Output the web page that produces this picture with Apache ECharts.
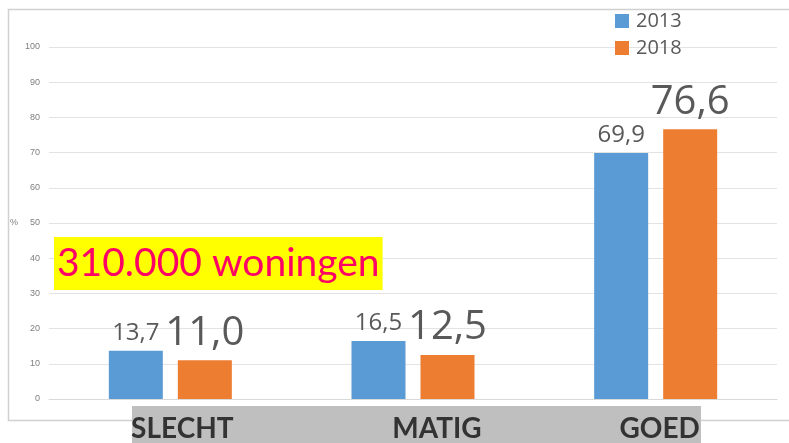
<!DOCTYPE html>
<html>
<head>
<meta charset="utf-8">
<script src="https://cdn.jsdelivr.net/npm/echarts@6/dist/echarts.min.js"></script>
<style>html,body{margin:0;padding:0;background:#fff}#c{width:789px;height:443px}</style>
</head>
<body>
<div id="c"></div>
<script>
var categories = ['SLECHT', 'MATIG', 'GOED'];
var seriesNames = ['2013', '2018'];
var values2013 = [13.7, 16.5, 69.9];
var values2018 = [11.0, 12.5, 76.6];
var yTicks = [0, 10, 20, 30, 40, 50, 60, 70, 80, 90, 100];
var annotationText = '310.000 woningen';
var yUnit = '%';

var labelShift = [24, 48, 8];
var chart = echarts.init(document.getElementById('c'), null, {renderer: 'canvas'});
function fmt(p) { return p.value.toFixed(1).replace('.', ','); }
var option = {
  animation: false,
  backgroundColor: '#ffffff',
  grid: {left: 49, right: 12, top: 47, bottom: 43.5},
  legend: {
    orient: 'vertical', left: 610, top: 6,
    itemWidth: 14, itemHeight: 14, itemGap: 7, icon: 'rect',
    textStyle: {fontFamily: 'Open Sans', fontSize: 20, color: '#595959', padding: [0, 0, 0, 2]},
    data: seriesNames
  },
  xAxis: {
    type: 'category',
    data: categories.map(function (c, i) {
      return {value: c, textStyle: {padding: [0, 0, 0, labelShift[i]]}};
    }),
    axisLine: {lineStyle: {color: '#d9d9d9'}},
    axisTick: {show: false},
    axisLabel: {
      fontFamily: 'Lato', fontWeight: 'bold', fontSize: 28,
      color: '#333333', margin: 16, lineHeight: 28
    },
    z: 10
  },
  yAxis: {
    type: 'value', min: yTicks[0], max: yTicks[yTicks.length - 1], interval: 10,
    name: yUnit, nameLocation: 'middle', nameRotate: 0, nameGap: 31,
    nameTextStyle: {fontSize: 9, color: '#7f7f7f'},
    axisLine: {show: false}, axisTick: {show: false},
    axisLabel: {fontSize: 9, color: '#7f7f7f', margin: 9},
    splitLine: {lineStyle: {color: '#e3e3e3'}}
  },
  series: [
    {
      name: seriesNames[0], type: 'bar', data: values2013,
      barWidth: 54, barGap: '27.8%',
      itemStyle: {color: '#5b9bd5'},
      label: {show: true, position: 'top', distance: 6, formatter: fmt,
        fontFamily: 'Open Sans', fontSize: 24, color: '#595959'}
    },
    {
      name: seriesNames[1], type: 'bar', data: values2018,
      barWidth: 54,
      itemStyle: {color: '#ed7d31'},
      label: {show: true, position: 'top', distance: 7, formatter: fmt,
        fontFamily: 'Open Sans', fontSize: 40, color: '#595959'}
    }
  ],
  graphic: [
    {type: 'rect', left: 6, top: 7, shape: {width: 900, height: 411}, z: -1,
      style: {fill: 'none', stroke: '#d0d0d0', lineWidth: 1.5}, silent: true},
    {type: 'rect', left: 132, top: 406, shape: {width: 569, height: 40}, z: 1,
      style: {fill: '#bfbfbf'}, silent: true},
    {type: 'text', left: 54, top: 237, z: 20,
      style: {text: annotationText, fontFamily: 'Lato', fontSize: 39,
        fill: '#ff0066', backgroundColor: '#ffff00', padding: [7, 3, 7, 3], lineHeight: 39}}
  ]
};
chart.setOption(option);
</script>
</body>
</html>
